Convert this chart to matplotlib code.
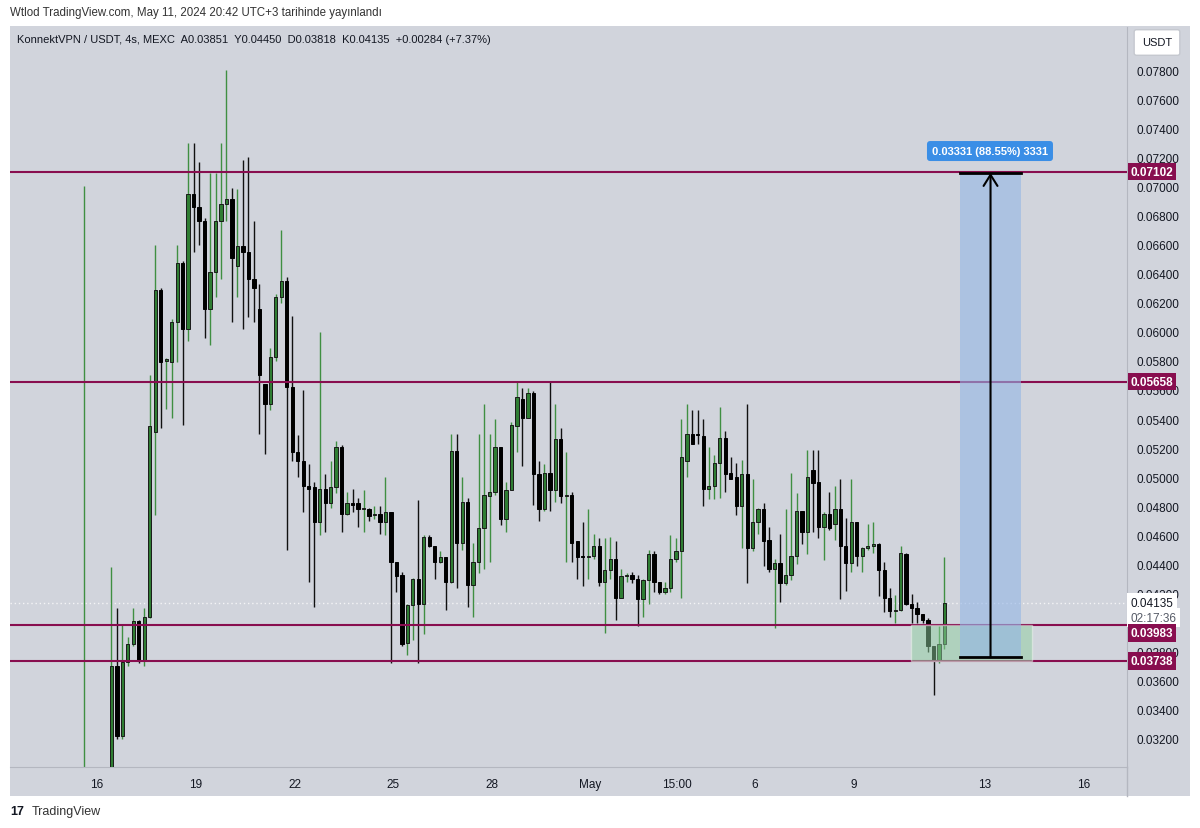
import numpy as np
import matplotlib.pyplot as plt
from matplotlib.patches import Rectangle
from matplotlib.ticker import FuncFormatter

nan = np.nan

# 4h candles, KonnektVPN / USDT (MEXC); first bar is the listing spike, 4 empty bars after it
opens = [
    .0285, nan, nan, nan, nan, .0290, .0370, .0322, .0373, .0385,
    .0401, .0374, .0404, .0531, .0629, .0580, .0579, .0607, .0647, .0602,
    .0695, .0686, .0676, .0616, .0641, .0676, .0688, .0691, .0645, .0659,
    .0655, .0636, .0616, .0564, .0550, .0583, .0624, .0635, .0562, .0517,
    .0511, .0494, .0493, .0469, .0492, .0482, .0493, .0521, .0475, .0482,
    .0482, .0478, .0478, .0474, .0475, .0469, .0476, .0442, .0433, .0386,
    .0412, .0430, .0413, .0459, .0453, .0442, .0445, .0428, .0518, .0455,
    .0483, .0426, .0442, .0465, .0487, .0490, .0521, .0471, .0491, .0535,
    .0554, .0541, .0558, .0502, .0478, .0503, .0491, .0526, .0487, .0488,
    .0456, .0446, .0445, .0446, .0453, .0428, .0436, .0444, .0417, .0432,
    .0433, .0430, .0416, .0429, .0447, .0428, .0421, .0424, .0444, .0449,
    .0511, .0530, .0530, .0528, .0492, .0494, .0510, .0527, .0503, .0500,
    .0480, .0502, .0451, .0469, .0478, .0457, .0437, .0441, .0427, .0433,
    .0446, .0477, .0462, .0505, .0497, .0466, .0475, .0468, .0478, .0453,
    .0441, .0469, .0446, .0451, .0453, .0454, .0436, .0417, .0408, .0409,
    .0447, .0413, .0410, .0406, .0402, .0384, .0374, .03851,
]
highs = [
    .0700, nan, nan, nan, nan, .0438, .0410, .0399, .0390, .0410,
    .0402, .0410, .0570, .0660, .0630, .0582, .0609, .0660, .0649, .0730,
    .0730, .0717, .0678, .0709, .0709, .0730, .0780, .0699, .0698, .0718,
    .0720, .0676, .0633, .0564, .0589, .0626, .0670, .0638, .0611, .0529,
    .0560, .0509, .0497, .0600, .0502, .0511, .0525, .0522, .0490, .0492,
    .0486, .0491, .0479, .0480, .0480, .0500, .0476, .0442, .0435, .0413,
    .0431, .0484, .0460, .0460, .0453, .0449, .0445, .0530, .0530, .0500,
    .0486, .0455, .0530, .0550, .0530, .0540, .0521, .0497, .0538, .0566,
    .0561, .0561, .0559, .0511, .0509, .0566, .0550, .0534, .0517, .0490,
    .0456, .0469, .0478, .0461, .0458, .0458, .0459, .0456, .0437, .0434,
    .0435, .0433, .0430, .0450, .0449, .0428, .0428, .0460, .0458, .0540,
    .0550, .0546, .0546, .0540, .0521, .0515, .0548, .0532, .0514, .0510,
    .0512, .0550, .0499, .0479, .0482, .0466, .0444, .0461, .0478, .0503,
    .0489, .0477, .0519, .0519, .0519, .0476, .0490, .0494, .0499, .0472,
    .0499, .0469, .0452, .0468, .0469, .0455, .0442, .0424, .0419, .0453,
    .0448, .0420, .0414, .0406, .0403, .0384, .0398, .0445,
]
lows = [
    .0280, nan, nan, nan, nan, .0285, .0320, .0320, .0370, .0384,
    .0372, .0370, .0403, .0474, .0534, .0547, .0541, .0579, .0536, .0594,
    .0655, .0660, .0596, .0591, .0624, .0636, .0676, .0607, .0624, .0602,
    .0610, .0607, .0530, .0516, .0546, .0580, .0620, .0450, .0511, .0500,
    .0476, .0428, .0411, .0460, .0462, .0479, .0489, .0462, .0474, .0476,
    .0466, .0462, .0470, .0471, .0461, .0460, .0372, .0421, .0384, .0378,
    .0388, .0372, .0392, .0452, .0430, .0441, .0409, .0427, .0424, .0450,
    .0411, .0404, .0434, .0437, .0442, .0488, .0467, .0462, .0491, .0517,
    .0508, .0541, .0481, .0470, .0477, .0477, .0483, .0482, .0442, .0442,
    .0430, .0425, .0430, .0444, .0425, .0393, .0430, .0402, .0417, .0428,
    .0427, .0398, .0404, .0413, .0421, .0420, .0420, .0421, .0442, .0417,
    .0500, .0523, .0523, .0480, .0485, .0485, .0486, .0490, .0499, .0474,
    .0451, .0427, .0449, .0461, .0439, .0435, .0396, .0414, .0426, .0429,
    .0440, .0454, .0447, .0462, .0458, .0443, .0464, .0457, .0416, .0422,
    .0435, .0439, .0435, .0450, .0448, .0418, .0407, .0404, .0400, .0408,
    .0412, .0400, .0400, .0400, .0380, .0350, .0372, .03818,
]
closes = [
    .0288, nan, nan, nan, nan, .0370, .0322, .0373, .0385, .0401,
    .0374, .0404, .0535, .0629, .0579, .0581, .0607, .0647, .0602, .0695,
    .0686, .0676, .0616, .0641, .0676, .0688, .0691, .0651, .0659, .0655,
    .0636, .0630, .0570, .0550, .0583, .0624, .0635, .0562, .0517, .0511,
    .0494, .0492, .0469, .0492, .0482, .0493, .0521, .0475, .0482, .0481,
    .0478, .04785, .0473, .0475, .0469, .0476, .0442, .0432, .0385, .0412,
    .0430, .0413, .0459, .0453, .0442, .0445, .0428, .0518, .0455, .0483,
    .0426, .0442, .0465, .0488, .0490, .0521, .0471, .0491, .0536, .0555,
    .0541, .0558, .0502, .0478, .0503, .0491, .0526, .0487, .0488, .0455,
    .0445, .0445, .0446, .0453, .0428, .0436, .0444, .0417, .0432, .0433,
    .0430, .0416, .0429, .0447, .0428, .0421, .0424, .0444, .0449, .0514,
    .0530, .0523, .0529, .0492, .0494, .0510, .0527, .0502, .0499, .0480,
    .0502, .0451, .0469, .0478, .0456, .0437, .0441, .0427, .0433, .0446,
    .0477, .0462, .0500, .0496, .0466, .0475, .0465, .0478, .0453, .0441,
    .0469, .0446, .0451, .0453, .0454, .0436, .0417, .0408, .0409, .0448,
    .0413, .0410, .0406, .0402, .0384, .0374, .03851, .04135,
]

# horizontal levels drawn on the chart
levels = [0.07102, 0.05658, 0.03983, 0.03738]
last_price = 0.04135
countdown = "02:17:36"

# price range measurement
measure_from = 0.03762
measure_to = 0.07093
measure_text = "0.03331 (88.55%) 3331"

# price axis ticks (0.04000 is hidden behind the labels)
price_ticks = [0.032, 0.034, 0.036, 0.038, 0.042, 0.044, 0.046, 0.048, 0.050,
               0.052, 0.054, 0.056, 0.058, 0.060, 0.062, 0.064, 0.066, 0.068,
               0.070, 0.072, 0.074, 0.076, 0.078]

# time axis (days since Apr 16)
tick_days = [0, 3, 6, 9, 12, 15, 17.625, 20, 23, 27, 30]
tick_labels = ["16", "19", "22", "25", "28", "May", "15:00", "6", "9", "13", "16"]

BG = "#d1d4dc"
LEVEL = "#880e4f"
TXT = "#131722"
plt.rcParams["font.family"] = ["Liberation Sans", "DejaVu Sans"]

W, H = 1200, 829
fig = plt.figure(figsize=(W / 100, H / 100), dpi=100)
fig.patch.set_facecolor("white")

# chart panel background (incl. price & time axis strips)
fig.patches.append(Rectangle((10 / W, 1 - 797 / H), 1180 / W, (797 - 27) / H,
                             transform=fig.transFigure, facecolor=BG,
                             edgecolor="none", zorder=-5))

ax = fig.add_axes([10 / W, 1 - 768 / H, 1117 / W, 740 / H])
ax.set_facecolor(BG)
ax.set_zorder(1)

o = np.array(opens)
h = np.array(highs)
l = np.array(lows)
c = np.array(closes)
x = np.arange(len(o))
valid = ~np.isnan(o)
up = valid & (c >= o)
dn = valid & (c < o)
bot = np.minimum(o, c)
bh = np.maximum(np.abs(c - o), 0.00007)

ax.vlines(x[up], l[up], h[up], color="#3f8f42", lw=1, zorder=2)
ax.vlines(x[dn], l[dn], h[dn], color="#111111", lw=1, zorder=2)
ax.bar(x[up], bh[up], bottom=bot[up], width=0.6, color="#2f7d33",
       edgecolor="#1a1a1a", linewidth=0.7, zorder=3)
ax.bar(x[dn], bh[dn], bottom=bot[dn], width=0.6, color="#000000",
       edgecolor="#000000", linewidth=0.7, zorder=3)

for lv in levels:
    ax.axhline(lv, color=LEVEL, lw=1.5, zorder=4)
ax.axhline(last_price, color="#f4f4f6", lw=1, ls=(0, (1, 2)), zorder=1)

# support zone and measurement box
ax.add_patch(Rectangle((150.9, levels[3]), 22.0, levels[2] - levels[3],
                       facecolor="#8fcf9f", alpha=0.5, edgecolor="#eef4ef",
                       lw=1, zorder=5))
ax.add_patch(Rectangle((159.9, measure_from), 11.1, measure_to - measure_from,
                       facecolor="#94b6e6", alpha=0.6, edgecolor="none", zorder=5))
ax.plot([159.9, 171.0], [measure_to, measure_to], color="black", lw=2, zorder=6)
ax.plot([159.9, 171.0], [measure_from, measure_from], color="black", lw=2, zorder=6)
ax.annotate("", xy=(165.4, measure_to), xytext=(165.4, measure_from),
            arrowprops=dict(arrowstyle="->,head_length=0.8,head_width=0.5",
                            color="black", lw=1.5, shrinkA=0, shrinkB=0), zorder=6)
ax.text(165.3, 0.07243, measure_text, ha="center", va="center", color="white",
        fontsize=8, fontweight="bold", zorder=7,
        bbox=dict(boxstyle="round,pad=0.45,rounding_size=0.3", fc="#3a8ee6", ec="none"))

# axes / ticks
ax.set_xlim(-13.5, 190.3)
ax.set_ylim(0.03007, 0.08096)
ax.yaxis.tick_right()
ax.set_yticks(price_ticks)
ax.yaxis.set_major_formatter(FuncFormatter(lambda v, p: f"{v:.5f}"))
ax.set_xticks([2.4 + 6 * d for d in tick_days])
ax.set_xticklabels(tick_labels)
ax.tick_params(axis="y", length=0, pad=7, labelsize=8.5, labelcolor=TXT)
ax.tick_params(axis="x", length=0, pad=8, labelsize=8.5, labelcolor=TXT)
for s in ["top", "left"]:
    ax.spines[s].set_visible(False)
ax.spines["bottom"].set_color("#b4b7c0")
ax.spines["right"].set_color("#b4b7c0")
fig.add_artist(plt.Line2D([1127 / W, 1127 / W], [1 - 797 / H, 1 - 768 / H],
                          color="#b4b7c0", lw=1))

# price labels on the axis
for lv, dy in zip(levels, [0, 0, -5.5, 0]):
    ax.annotate(f"{lv:.5f}", xy=(1, lv), xycoords=("axes fraction", "data"),
                xytext=(2.5, dy), textcoords="offset points", ha="left", va="center",
                color="white", fontsize=8.5, fontweight="bold", annotation_clip=False,
                zorder=10,
                bbox=dict(boxstyle="square,pad=0.25", fc=LEVEL, ec="none"))
ax.annotate(f"{last_price:.5f}", xy=(1, last_price),
            xycoords=("axes fraction", "data"), xytext=(2.5, 0),
            textcoords="offset points", ha="left", va="center", color=TXT,
            fontsize=8.5, annotation_clip=False, zorder=9,
            bbox=dict(boxstyle="square,pad=0.3", fc="white", ec="none"))
ax.annotate(countdown, xy=(1, last_price),
            xycoords=("axes fraction", "data"), xytext=(2.5, -10.5),
            textcoords="offset points", ha="left", va="center", color="#555a66",
            fontsize=8.5, annotation_clip=False, zorder=9,
            bbox=dict(boxstyle="square,pad=0.3", fc="white", ec="none"))

# header texts
fig.text(10 / W, 1 - 13 / H, "Wtlod TradingView.com, May 11, 2024 20:42 UTC+3 tarihinde yayınlandı",
         fontsize=8.3, color="#333333", va="center")
fig.text(17 / W, 1 - 40 / H,
         "KonnektVPN / USDT, 4s, MEXC  A0.03851  Y0.04450  D0.03818  K0.04135  +0.00284 (+7.37%)",
         fontsize=8, color=TXT, va="center", zorder=5)
fig.text(1157 / W, 1 - 43.5 / H, "USDT", fontsize=8, color=TXT, ha="center", va="center",
         zorder=5,
         bbox=dict(boxstyle="round,pad=0.7,rounding_size=0.2", fc="white", ec="#c5c8cf"))
fig.text(10 / W, 1 - 812 / H, "17", fontsize=9, fontweight="heavy", color="#131722",
         va="center")
fig.text(32 / W, 1 - 812 / H, "TradingView", fontsize=9, color="#333333", va="center")

fig.savefig("out.png", dpi=100, facecolor="white")
